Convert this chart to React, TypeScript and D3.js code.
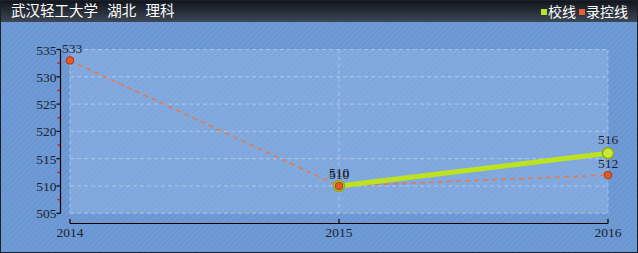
import React from "react";
import * as d3 from "d3";

const years = ["2014", "2015", "2016"];
const schoolLine: (number | null)[] = [null, 510, 516];
const controlLine: (number | null)[] = [533, 510, 512];
const yTicks = [505, 510, 515, 520, 525, 530, 535];
const yMinorTicks = [507.5, 512.5, 517.5, 522.5, 527.5, 532.5];
const legendLabels = ["校线", "录控线"];
const title = "武汉轻工大学 湖北 理科";

const W = 638;
const H = 253;

export default function App() {
  const x = d3.scalePoint<string>().domain(years).range([70, 608]);
  const y = d3.scaleLinear().domain([505, 535]).range([213.3, 49.5]);

  const pts = (vals: (number | null)[]) =>
    years
      .map((yr, i) => ({ yr, v: vals[i] }))
      .filter((d) => d.v !== null) as { yr: string; v: number }[];

  const line = d3
    .line<{ yr: string; v: number }>()
    .x((d) => x(d.yr)!)
    .y((d) => y(d.v));

  const school = pts(schoolLine);
  const control = pts(controlLine);
  const numFont = "'Liberation Serif', 'DejaVu Serif', serif";
  const cjkFont = "'Noto Sans CJK SC', sans-serif";
  const textCol = "#1a2230";
  const nfs = 13.5;

  return (
    <svg
      width={W}
      height={H}
      style={{ position: "absolute", left: 0, top: 0 }}
    >
      <defs>
        <pattern
          id="stripes"
          width="4"
          height="4"
          patternUnits="userSpaceOnUse"
          patternTransform="rotate(45)"
        >
          <line x1="0" y1="0" x2="0" y2="4" stroke="rgba(40,70,130,0.12)" strokeWidth="1.5" />
        </pattern>
        <linearGradient id="titleGrad" x1="0" y1="0" x2="0" y2="1">
          <stop offset="0" stopColor="#10141b" />
          <stop offset="1" stopColor="#3e4756" />
        </linearGradient>
      </defs>
      <rect x={0} y={0} width={W} height={H} fill="#6e9ad5" />
      <rect x={0} y={0} width={W} height={H} fill="url(#stripes)" />
      <rect x={0} y={0} width={W} height={22} fill="url(#titleGrad)" />
      <rect x={0.5} y={0.5} width={W - 1} height={H - 1} fill="none" stroke="#1a1f28" />

      <text x={11} y={15.5} fill="#ffffff" fontSize={14.5} fontFamily={cjkFont} wordSpacing={6}>
        {title}
      </text>

      <rect x={541} y={9} width={6} height={6} fill="#b8e22a" />
      <text x={548} y={16.5} fill="#ffffff" fontSize={14} fontFamily={cjkFont}>
        {legendLabels[0]}
      </text>
      <rect x={579} y={9} width={6} height={6} fill="#e8602c" />
      <text x={586} y={16.5} fill="#ffffff" fontSize={14} fontFamily={cjkFont}>
        {legendLabels[1]}
      </text>

      {/* plot area */}
      <rect
        x={x("2014")!}
        y={y(535)}
        width={x("2016")! - x("2014")!}
        height={y(505) - y(535)}
        fill="rgba(170,200,240,0.35)"
      />
      {yTicks.map((t) => (
        <line
          key={"g" + t}
          x1={x("2014")!}
          x2={x("2016")!}
          y1={y(t)}
          y2={y(t)}
          stroke="rgba(255,255,255,0.35)"
          strokeDasharray="4,3"
        />
      ))}
      {years.map((yr) => (
        <line
          key={"gv" + yr}
          x1={x(yr)!}
          x2={x(yr)!}
          y1={y(535)}
          y2={y(505)}
          stroke="rgba(255,255,255,0.35)"
          strokeDasharray="4,3"
        />
      ))}

      {/* y axis */}
      <line x1={60.5} x2={60.5} y1={y(535)} y2={y(505)} stroke="#000" strokeWidth={1.2} />
      {yTicks.map((t) => (
        <g key={"yt" + t}>
          <line x1={56.5} x2={60.5} y1={y(t)} y2={y(t)} stroke="#000" strokeWidth={1.2} />
          <text
            x={56.5}
            y={y(t) + 5}
            textAnchor="end"
            fontSize={nfs}
            fontFamily={numFont}
            fill={textCol}
          >
            {t}
          </text>
        </g>
      ))}
      {yMinorTicks.map((t) => (
        <line key={"ym" + t} x1={57.5} x2={60.5} y1={y(t)} y2={y(t)} stroke="#e00000" strokeWidth={1.2} />
      ))}

      {/* x axis */}
      <line x1={x("2014")!} x2={x("2016")!} y1={223.5} y2={223.5} stroke="#000" strokeWidth={1.2} />
      {years.map((yr) => (
        <g key={"xt" + yr}>
          <line x1={x(yr)!} x2={x(yr)!} y1={219} y2={223.5} stroke="#000" strokeWidth={1.2} />
          <text
            x={x(yr)!}
            y={236.5}
            textAnchor="middle"
            fontSize={nfs}
            fontFamily={numFont}
            fill={textCol}
          >
            {yr}
          </text>
        </g>
      ))}

      {/* control line (dashed) */}
      <path
        d={line(control)!}
        fill="none"
        stroke="#e57a4c"
        strokeWidth={1.5}
        strokeDasharray="5,4"
      />
      {/* school line */}
      <path d={line(school)!} fill="none" stroke="#bde320" strokeWidth={5} strokeLinecap="round" />

      {school.map((d) => (
        <circle
          key={"sp" + d.yr}
          cx={x(d.yr)!}
          cy={y(d.v)}
          r={5.5}
          fill="#c9e83a"
          stroke="#8aab1a"
          strokeWidth={1.5}
        />
      ))}
      {control.map((d) => (
        <circle
          key={"cp" + d.yr}
          cx={x(d.yr)!}
          cy={y(d.v)}
          r={3.8}
          fill="#e4592a"
          stroke="#a83a14"
          strokeWidth={1}
        />
      ))}

      {school.map((d) => (
        <text
          key={"sl" + d.yr}
          x={x(d.yr)!}
          y={y(d.v) - 9}
          textAnchor="middle"
          fontSize={nfs}
          fontFamily={numFont}
          fill={textCol}
        >
          {d.v}
        </text>
      ))}
      {control.map((d) => (
        <text
          key={"cl" + d.yr}
          x={x(d.yr)! + (d.yr === "2014" ? 2 : 0)}
          y={y(d.v) - 7}
          textAnchor="middle"
          fontSize={nfs}
          fontFamily={numFont}
          fill={textCol}
        >
          {d.v}
        </text>
      ))}
    </svg>
  );
}
